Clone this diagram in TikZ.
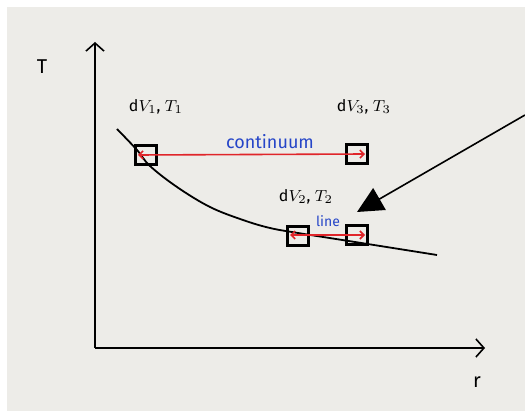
\documentclass[tikz,border=0pt]{standalone}
\usepackage{fontspec}
\setsansfont{Fira Sans}
\usepackage{xcolor}
\usepackage{tikz}
\usetikzlibrary{arrows.meta,positioning,calc}
\definecolor{paper}{HTML}{EDECE8}
\definecolor{penred}{HTML}{E0252A}
\definecolor{penblue}{HTML}{2545C8}

\begin{document}
\begin{tikzpicture}[
        x=0.5pt, y=-0.5pt,
        cell/.style={draw=black, line width=1.1pt, minimum width=10.5pt, minimum height=9.5pt, inner sep=0pt},
        lbl/.style={font=\sffamily\footnotesize, inner sep=1pt},
        note/.style={font=\sffamily\small, text=penblue, inner sep=1pt},
        axis/.style={-{Straight Barb[length=4pt, width=9pt]}, line width=0.8pt},
        flux/.style={{Straight Barb[length=2pt, width=4pt]}-{Straight Barb[length=2pt, width=4pt]}, penred, line width=0.8pt},
        pointer/.style={-{Triangle[length=13pt, width=12.5pt]}, line width=0.8pt},
    ]
    % Paper
    \useasboundingbox (0,0) rectangle (525,411);
    \fill[white] (0,0) rectangle (525,411);
    \fill[paper] (7,7) rectangle (525,411);

    % Axes
    \coordinate (origin) at (95,348);
    \coordinate (ytip) at (95,42);
    \coordinate (xtip) at (485,348);
    \draw[axis] (origin) -- (ytip);
    \draw[axis] (origin) -- (xtip);
    \node[font=\sffamily\normalsize] (tlab) at (42,67) {T};
    \node[font=\sffamily\normalsize] (rlab) at (477,382) {r};

    % Temperature profile
    \draw[line width=0.9pt] plot[smooth, tension=0.6] coordinates {(117,129) (137,150) (150,166) (177,187)
        (210,207) (243,220) (270,228) (298,233) (355,242) (437,255)};

    % Volume elements
    \node[cell] (v1) at (146,155) {};
    \node[cell] (v3) at (357,154) {};
    \node[cell] (v2) at (298,236) {};
    \node[cell] (v4) at (357,235) {};

    \node[lbl] (l1) at (156,107) {d$V_{1}$, $T_{1}$};
    \node[lbl] (l3) at (364,107) {d$V_{3}$, $T_{3}$};
    \node[lbl] (l2) at (306,197) {d$V_{2}$, $T_{2}$};

    % Exchange between elements
    \draw[flux] ($(v1.center)+(-8,0)$) -- ($(v3.center)+(8,0)$);
    \draw[flux] ($(v2.center)+(-8,-1)$) -- ($(v4.center)+(8,0)$);
    \node[note] (cont) at (270,142) {continuum};
    \node[note, font=\sffamily\scriptsize] (line) at (328,221) {line};

    % Pointer
    \coordinate (pstart) at (525,115);
    \coordinate (ptip) at (357,212);
    \draw[pointer] (pstart) -- (ptip);
\end{tikzpicture}
\end{document}
